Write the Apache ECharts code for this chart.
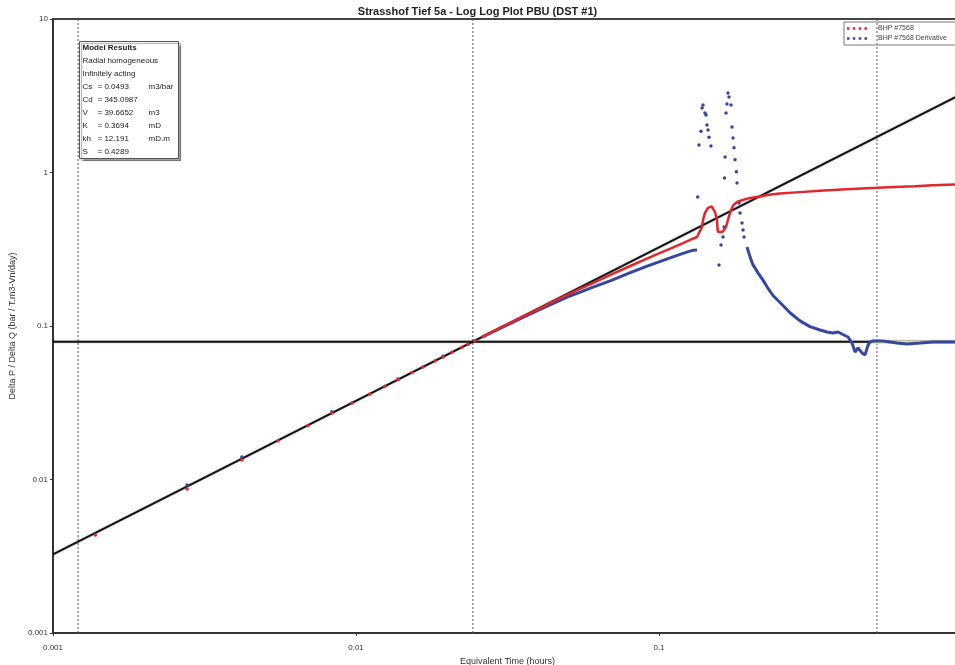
<!DOCTYPE html>
<html>
<head>
<meta charset="utf-8">
<script src="https://cdn.jsdelivr.net/npm/echarts/dist/echarts.min.js"></script>
<style>
  html, body { margin: 0; padding: 0; background: #ffffff; }
  #chart { width: 955px; height: 665px; }
</style>
</head>
<body>
<div id="chart"></div>
<script>
// Axis ranges (log decades)
const timeRange = [0.001, 1];
const ratioRange = [0.001, 10];

// Straight-line diagnostics: unit slope (wellbore storage) and radial flow level
const unitSlopeT = [0.001, 1];
const unitSlopeV = [0.00325, 3.25];
const radialT = [0.001, 1];
const radialV = [0.079, 0.079];
const markerTimes = [0.00121, 0.0243, 0.524];

// BHP #7568 pressure change – early readings
const bhpEarlyT = [0.00138, 0.00277, 0.00420, 0.00553, 0.00694, 0.00833, 0.00970, 0.01112, 0.01246,
  0.01376, 0.01530, 0.01664, 0.01823, 0.01937, 0.02074, 0.02238, 0.02342, 0.02470];
const bhpEarlyV = [0.00435, 0.00867, 0.0134, 0.0179, 0.0225, 0.0271, 0.0315, 0.0361, 0.0405,
  0.0447, 0.0497, 0.0541, 0.0592, 0.0629, 0.0674, 0.0727, 0.0761, 0.0802];

// BHP #7568 pressure change – continuous record
const bhpT = [0.026, 0.030, 0.035, 0.040, 0.045, 0.050, 0.055, 0.060, 0.070, 0.080, 0.090, 0.100,
  0.110, 0.120, 0.1300, 0.1335, 0.1387, 0.1397, 0.1418, 0.1451, 0.1495, 0.1507, 0.1530, 0.1554,
  0.1560, 0.1566, 0.1615, 0.1639, 0.1664, 0.1689, 0.1715, 0.1741, 0.1755, 0.1809, 0.1879, 0.1997,
  0.2186, 0.2273, 0.2505, 0.292, 0.340, 0.400, 0.450, 0.524, 0.600, 0.700, 0.800, 0.950];
const bhpV = [0.0845, 0.0975, 0.1135, 0.129, 0.145, 0.160, 0.175, 0.189, 0.218, 0.245, 0.272, 0.297,
  0.322, 0.347, 0.372, 0.380, 0.442, 0.491, 0.545, 0.588, 0.600, 0.597, 0.553, 0.491,
  0.430, 0.409, 0.409, 0.422, 0.442, 0.491, 0.545, 0.588, 0.610, 0.643, 0.660, 0.683,
  0.700, 0.713, 0.730, 0.745, 0.760, 0.775, 0.785, 0.795, 0.805, 0.815, 0.825, 0.835];

// BHP #7568 derivative – early readings
const derEarlyT = [0.00277, 0.00420, 0.00833, 0.01376, 0.01937, 0.02470];
const derEarlyV = [0.0092, 0.0140, 0.0276, 0.0452, 0.0636, 0.0806];

// Derivative – continuous record before the disturbance
const derT = [0.026, 0.030, 0.035, 0.040, 0.045, 0.050, 0.055, 0.060, 0.070, 0.080, 0.090, 0.100,
  0.110, 0.120, 0.125, 0.130, 0.1335];
const derV = [0.0845, 0.097, 0.112, 0.127, 0.141, 0.155, 0.166, 0.178, 0.199, 0.222, 0.243, 0.262,
  0.280, 0.297, 0.305, 0.312, 0.313];

// Derivative – scattered points during the disturbance
const derSpikeT = [0.1342, 0.1355, 0.1376, 0.1387, 0.1397, 0.1418, 0.1429, 0.1440, 0.1451, 0.1462,
  0.1484, 0.1578, 0.1602, 0.1627, 0.1639, 0.1645, 0.1652, 0.1664, 0.1676, 0.1689, 0.1702, 0.1728,
  0.1741, 0.1755, 0.1768, 0.1782, 0.1800, 0.1809, 0.1837, 0.1851, 0.1879, 0.1894, 0.1908];
const derSpikeV = [0.692, 1.51, 1.86, 2.63, 2.75, 2.44, 2.37, 2.04, 1.89, 1.70,
  1.49, 0.250, 0.337, 0.380, 0.442, 0.920, 1.26, 2.44, 2.79, 3.30, 3.10, 2.75,
  1.98, 1.68, 1.45, 1.21, 1.01, 0.855, 0.632, 0.544, 0.469, 0.422, 0.380];

// Derivative – continuous record after the disturbance
const derLateT = [0.1952, 0.1997, 0.2043, 0.2122, 0.2204, 0.2273, 0.2378, 0.2546, 0.2706, 0.292,
  0.315, 0.340, 0.3585, 0.3752, 0.3897, 0.4048, 0.4206, 0.4335, 0.4436, 0.4538, 0.4677, 0.4786,
  0.4897, 0.4972, 0.5087, 0.5488, 0.6103, 0.6585, 0.7266, 0.8023, 0.9129, 0.960];
const derLateV = [0.327, 0.282, 0.250, 0.222, 0.199, 0.180, 0.158, 0.138, 0.122, 0.108,
  0.099, 0.0942, 0.0914, 0.0900, 0.0914, 0.0880, 0.0848, 0.0775, 0.0677, 0.0719, 0.0668, 0.0648,
  0.0751, 0.0787, 0.0798, 0.0798, 0.0775, 0.0764, 0.0775, 0.0787, 0.0787, 0.0787];

// Model derivative on the radial flow stabilisation
const modelT = [0.50, 0.60, 0.70, 0.80, 0.95];
const modelV = [0.0785, 0.0785, 0.0785, 0.0785, 0.0785];

const zip = (a, b) => a.map((v, i) => [v, b[i]]);

const RED = '#e3262a';
const BLUE = '#3447a3';
const FONT = "'Liberation Sans', Arial, sans-serif";
const dotsIcon = 'path://M0,0h2.5v2.5h-2.5zM5.8,0h2.5v2.5h-2.5zM11.7,0h2.5v2.5h-2.5zM17.5,0h2.5v2.5h-2.5z';

const modelLines = [
  ['Model Results', '', '', true],
  ['Radial homogeneous', '', ''],
  ['Infinitely acting', '', ''],
  ['Cs', '= 0.0493', 'm3/bar'],
  ['Cd', '= 345.0987', ''],
  ['V', '= 39.6652', 'm3'],
  ['K', '= 0.3694', 'mD'],
  ['kh', '= 12.191', 'mD.m'],
  ['S', '= 0.4289', '']
];

const boxChildren = [{
  type: 'rect',
  shape: { x: 0, y: 0, width: 99, height: 117 },
  style: { fill: '#ffffff', stroke: '#555555', lineWidth: 1,
    shadowColor: 'rgba(0,0,0,0.35)', shadowOffsetX: 2, shadowOffsetY: 2, shadowBlur: 1 }
}];
modelLines.forEach((row, i) => {
  const y = 6 + i * 13;
  boxChildren.push({ type: 'text', x: 3, y: y,
    style: { text: row[0], font: (row[3] ? 'bold ' : '') + '8px ' + FONT, fill: '#222', textVerticalAlign: 'middle' } });
  if (row[1]) boxChildren.push({ type: 'text', x: 18, y: y,
    style: { text: row[1], font: '8px ' + FONT, fill: '#222', textVerticalAlign: 'middle' } });
  if (row[2]) boxChildren.push({ type: 'text', x: 69, y: y,
    style: { text: row[2], font: '8px ' + FONT, fill: '#222', textVerticalAlign: 'middle' } });
});

// Vertical dashed time markers, each spanning the full value range
const markerSeries = markerTimes.map(t => ({
  name: 'marker', type: 'line', symbol: 'none', silent: true, z: 1,
  data: [[t, ratioRange[0]], [t, ratioRange[1]]],
  lineStyle: { color: '#555', width: 1, type: [2, 2] }
}));

const chart = echarts.init(document.getElementById('chart'), null, { renderer: 'canvas' });

const logLabel = v => String(+(+v).toPrecision(3));

chart.setOption({
  animation: false,
  backgroundColor: '#ffffff',
  title: {
    text: 'Strasshof Tief 5a - Log Log Plot PBU (DST #1)',
    left: 'center', top: 1,
    textStyle: { fontFamily: FONT, fontSize: 11, fontWeight: 'bold', color: '#222' }
  },
  legend: {
    orient: 'vertical', left: 844, top: 22,
    itemWidth: 20, itemHeight: 2.5, itemGap: 3,
    borderColor: '#777', borderWidth: 1, padding: [3, 12, 3, 3],
    textStyle: { fontFamily: FONT, fontSize: 7, color: '#444', padding: [0, 0, 0, 6] },
    data: [
      { name: 'BHP #7568', icon: dotsIcon },
      { name: 'BHP #7568 Derivative', icon: dotsIcon }
    ]
  },
  grid: {
    left: 53, top: 19, width: 909, height: 614,
    outerBoundsMode: 'none',
    show: true, borderColor: '#444', borderWidth: 2, backgroundColor: '#fff'
  },
  xAxis: {
    type: 'log', logBase: 10, min: timeRange[0], max: timeRange[1],
    name: 'Equivalent Time (hours)', nameLocation: 'middle', nameGap: 21,
    nameTextStyle: { fontFamily: FONT, fontSize: 9, color: '#333' },
    axisLine: { show: true, lineStyle: { color: '#333', width: 2 } },
    axisTick: { show: true, length: 3, lineStyle: { color: '#333' } },
    axisLabel: { fontFamily: FONT, fontSize: 8, color: '#333', margin: 11, formatter: logLabel },
    splitLine: { show: false }, minorTick: { show: false }
  },
  yAxis: {
    type: 'log', logBase: 10, min: ratioRange[0], max: ratioRange[1],
    name: 'Delta P / Delta Q (bar / T.m3-Vn/day)', nameLocation: 'middle', nameGap: 33,
    nameTextStyle: { fontFamily: FONT, fontSize: 9, color: '#333' },
    axisLine: { show: true, lineStyle: { color: '#333', width: 2 } },
    axisTick: { show: true, length: 3, lineStyle: { color: '#333' } },
    axisLabel: { fontFamily: FONT, fontSize: 8, color: '#333', margin: 5, formatter: logLabel },
    splitLine: { show: false }, minorTick: { show: false }
  },
  graphic: [{ type: 'group', left: 79, top: 41, children: boxChildren }],
  series: markerSeries.concat([
    {
      name: 'radial', type: 'line', data: zip(radialT, radialV), symbol: 'none', silent: true, z: 2,
      lineStyle: { color: '#111', width: 2, shadowColor: 'rgba(0,0,0,0.35)', shadowBlur: 2 }
    },
    {
      name: 'unit slope', type: 'line', data: zip(unitSlopeT, unitSlopeV), symbol: 'none', silent: true, z: 2,
      lineStyle: { color: '#111', width: 2, shadowColor: 'rgba(0,0,0,0.35)', shadowBlur: 2 }
    },
    {
      name: 'model', type: 'line', data: zip(modelT, modelV), symbol: 'none', silent: true, z: 3,
      lineStyle: { color: '#f2e46a', width: 3 }
    },
    {
      name: 'BHP #7568', type: 'scatter', data: zip(bhpEarlyT, bhpEarlyV), symbolSize: 3.5, z: 5,
      itemStyle: { color: RED, opacity: 1 }
    },
    {
      name: 'BHP #7568', type: 'line', data: zip(bhpT, bhpV), symbol: 'none', z: 5,
      lineStyle: { color: RED, width: 2.5 }, itemStyle: { color: RED }
    },
    {
      name: 'BHP #7568 Derivative', type: 'scatter', data: zip(derEarlyT, derEarlyV), symbolSize: 3.5, z: 4,
      itemStyle: { color: BLUE, opacity: 1 }
    },
    {
      name: 'BHP #7568 Derivative', type: 'line', data: zip(derT, derV), symbol: 'none', z: 4,
      lineStyle: { color: BLUE, width: 3 }, itemStyle: { color: BLUE }
    },
    {
      name: 'BHP #7568 Derivative', type: 'scatter', data: zip(derSpikeT, derSpikeV), symbolSize: 3.5, z: 4,
      itemStyle: { color: BLUE, opacity: 1 }
    },
    {
      name: 'BHP #7568 Derivative', type: 'line', data: zip(derLateT, derLateV), symbol: 'none', z: 4,
      lineStyle: { color: BLUE, width: 3 }, itemStyle: { color: BLUE }
    }
  ])
});
</script>
</body>
</html>
